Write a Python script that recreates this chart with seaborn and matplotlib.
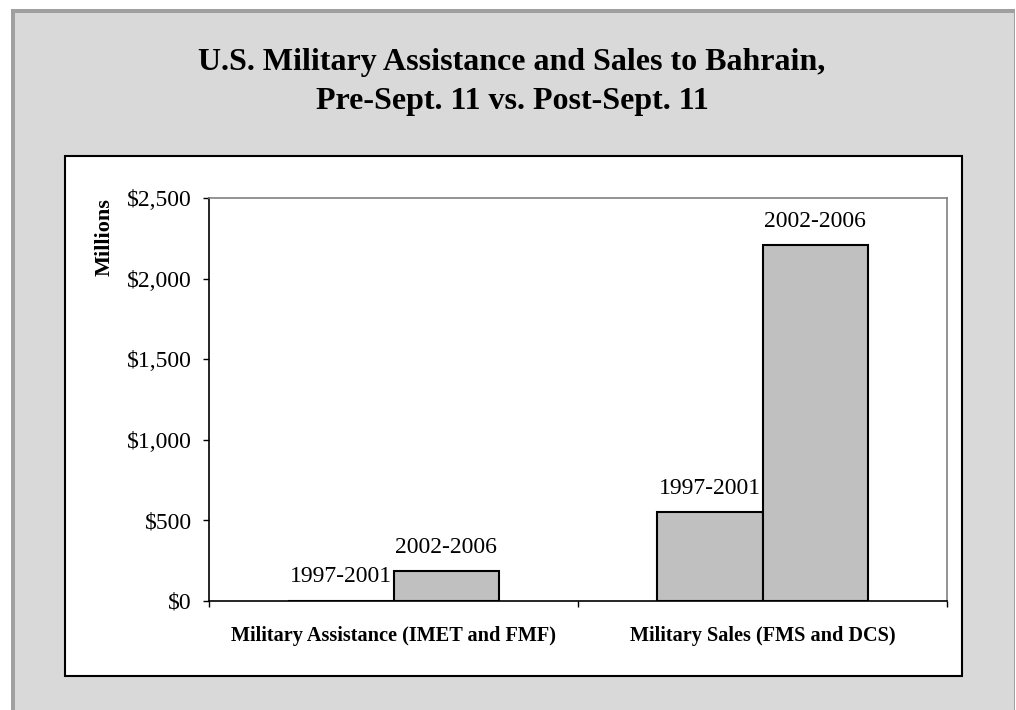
import pandas as pd
import matplotlib
matplotlib.use('Agg')
import matplotlib.pyplot as plt
import seaborn as sns
from matplotlib.patches import Rectangle
from matplotlib.ticker import FuncFormatter

categories = ['Military Assistance (IMET and FMF)', 'Military Sales (FMS and DCS)']
periods = ['1997-2001', '2002-2006']
pre_911 = [0, 552]
post_911 = [186, 2208]
y_ticks = [0, 500, 1000, 1500, 2000, 2500]

df = pd.DataFrame({
    'category': categories * 2,
    'period': [periods[0]] * 2 + [periods[1]] * 2,
    'value': pre_911 + post_911,
})

sns.set_theme(style='white')
plt.rcParams['font.family'] = ['Liberation Serif', 'DejaVu Serif']
plt.rcParams['text.color'] = 'black'

W, H = 1016, 710
fig = plt.figure(figsize=(W / 100, H / 100), dpi=100, facecolor='white')


def px_rect(x0, y0, x1, y1, **kw):
    # box in pixels, measured from the top-left corner of the picture
    return Rectangle((x0 / W, 1 - y1 / H), (x1 - x0) / W, (y1 - y0) / H,
                     transform=fig.transFigure, **kw)


fig.add_artist(px_rect(11, 9, 1015, 712, facecolor='#A0A0A0', edgecolor='none', zorder=-3))
fig.add_artist(px_rect(15, 13, 1014, 712, facecolor='#D9D9D9', edgecolor='none', zorder=-2))
fig.add_artist(px_rect(65, 156, 962, 676, facecolor='white', edgecolor='black', linewidth=1.5, zorder=-1))

fig.text(512 / W, 1 - 82 / H, 'U.S. Military Assistance and Sales to Bahrain,\nPre-Sept. 11 vs. Post-Sept. 11',
         ha='center', va='center', fontsize=23, fontweight='bold', linespacing=1.45, color='black')

ax = fig.add_axes([209 / W, 1 - 601 / H, (947 - 209) / W, (601 - 198) / H])
ax.set_facecolor('white')

sns.barplot(data=df, x='category', y='value', hue='period', order=categories, hue_order=periods,
            palette=['#C0C0C0', '#C0C0C0'], saturation=1, edgecolor='black', linewidth=1.5,
            width=0.57, legend=False, ax=ax)

for cont, period in zip(ax.containers, periods):
    for bar in cont:
        ax.annotate(period, (bar.get_x() + bar.get_width() / 2, bar.get_height()),
                    xytext=(0, 24), textcoords='offset pixels', ha='center', va='center',
                    fontsize=17, color='black')

ax.set_xlim(-0.5, 1.5)
ax.set_ylim(0, 2500)
ax.set_yticks(y_ticks)
ax.yaxis.set_major_formatter(FuncFormatter(lambda v, p: f'${v:,.0f}'))
ax.tick_params(axis='y', direction='out', length=4.3, width=1, color='black', pad=8,
               labelsize=17, labelcolor='black', left=True)

ax.set_xticks([0, 1])
ax.set_xticklabels(categories, fontsize=14.6, fontweight='bold')
ax.set_xticks([-0.5, 0.5, 1.5], minor=True)
ax.tick_params(axis='x', which='major', length=0, pad=18, labelcolor='black')
ax.tick_params(axis='x', which='minor', direction='out', length=4.3, width=1, color='black', bottom=True)

ax.set_xlabel('')
ax.set_ylabel('Millions', fontsize=16, fontweight='bold', color='black')
ax.yaxis.set_label_coords(-0.141, 0.903)
ax.yaxis.label.set_verticalalignment('center')

for side in ['left', 'bottom']:
    ax.spines[side].set_color('black')
    ax.spines[side].set_linewidth(1.2)
for side in ['top', 'right']:
    ax.spines[side].set_color('#808080')
    ax.spines[side].set_linewidth(1.2)

fig.savefig('out.png', dpi=100)
